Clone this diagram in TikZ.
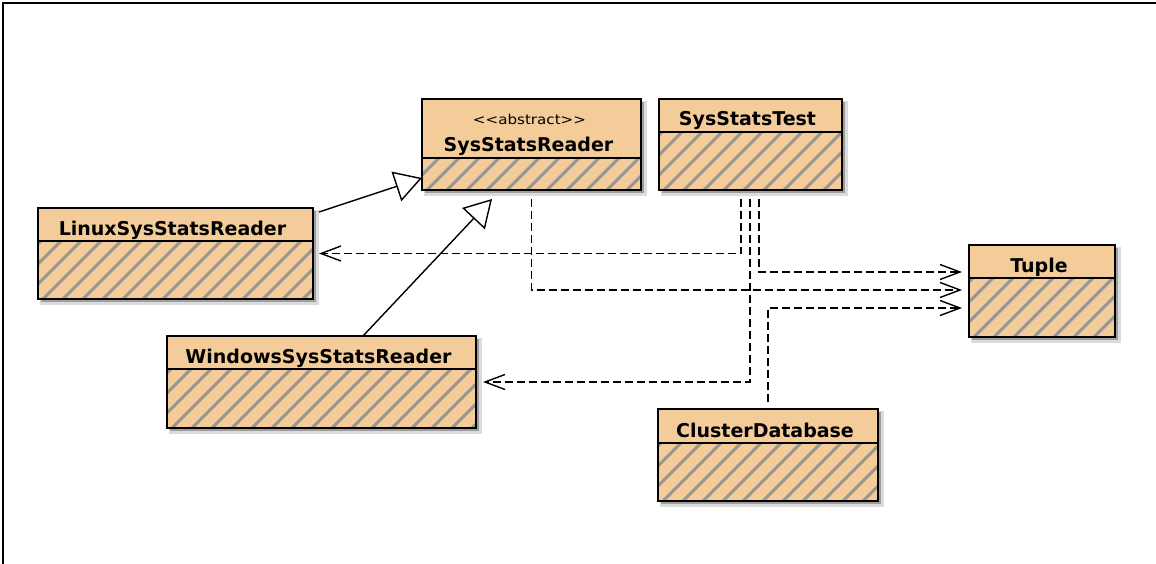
\documentclass[tikz,border=0pt]{standalone}
\usepackage{fontspec}
\setmainfont{DejaVu Sans}
\newfontfamily\stereofont[FakeStretch=1.12]{DejaVu Sans}
\usetikzlibrary{arrows.meta,calc}
\definecolor{classfill}{RGB}{244,204,153}
\definecolor{hatchgray}{RGB}{150,150,150}
\tikzset{
  classbox/.style={fill=classfill, draw=none, inner sep=0pt, outer sep=0pt, anchor=north west},
  border/.style={draw=black, line width=1.6pt},
  hatchline/.style={draw=hatchgray, line width=3pt},
  classtitle/.style={font=\bfseries\fontsize{19}{20}\selectfont, inner sep=0pt, anchor=base},
  stereo/.style={font=\stereofont\fontsize{13.5}{14}\selectfont, inner sep=0pt, anchor=base},
  gen/.style={line width=1.4pt, -{Triangle[open, length=27pt, width=31pt, line width=1.4pt]}},
  dep/.style={line width=1.4pt, dash pattern=on 8pt off 4pt, -{Straight Barb[length=20pt, width=15pt, line width=1.4pt]}},
  frameline/.style={draw=black, line width=2pt}
}
\newcommand\umlclass[7]{%
  \fill[black!14] (#2+2,#3+2) rectangle ++(#4+4,#5+4);
  \fill[black!38] (#2+3,#3+3) rectangle ++(#4,#5);
  \node[classbox, minimum width=#4pt, minimum height=#5pt] (#1) at (#2,#3) {};
  \begin{scope}
    \clip (#2,#3+#6) rectangle ++(#4,#5-#6);
    \foreach \k in {-6,...,17} { \draw[hatchline] (#2+\k*20,#3+#5+5) -- ++(130,-130); }
  \end{scope}
  \draw[border] (#1.north west) rectangle (#1.south east);
  \draw[border] ($(#1.north west)+(0,#6)$) -- ($(#1.north east)+(0,#6)$);
  \node[classtitle] (#1-title) at ($(#1.north)+(-3,#6-6)$) {#7};
}
\begin{document}
\begin{tikzpicture}[x=1pt,y=-1pt]
\useasboundingbox (0,0) rectangle (1156,564);
\fill[white] (0,0) rectangle (1156,564);
\draw[frameline] (3,564) -- (3,3) -- (1156,3);

\umlclass{reader}{422}{99}{219}{91}{59}{SysStatsReader}
\node[stereo] (reader-stereo) at ($(reader.north)+(-2,26)$) {<<abstract>>};
\umlclass{test}{659}{99}{183}{91}{33}{SysStatsTest}
\umlclass{linux}{38}{208}{275}{91}{33}{LinuxSysStatsReader}
\umlclass{windows}{167}{336}{309}{92}{33}{WindowsSysStatsReader}
\umlclass{tuple}{969}{245}{146}{92}{33}{Tuple}
\umlclass{cluster}{658}{409}{220}{92}{34}{ClusterDatabase}

% generalizations
\draw[gen] ($(linux.north east)+(6,4)$) -- ($(reader.south west)+(0,-12)$);
\draw[gen] ($(windows.north west)+(196,0)$) -- ($(reader.south west)+(70,9)$);

% dependencies
\draw[dep] ($(test.south west)+(82,9)$) |- ($(linux.east)+(6,0)$);
\draw[dep] ($(test.south west)+(91,9)$) |- ($(windows.east)+(7,0)$);
\draw[dep] ($(test.south west)+(100,9)$) |- ($(tuple.west)+(-7,-19)$);
\draw[dep] ($(reader.south)+(0,9)$) |- ($(tuple.west)+(-7,-1)$);
\draw[dep] ($(cluster.north west)+(110,-7)$) |- ($(tuple.west)+(-7,17)$);
\end{tikzpicture}
\end{document}
